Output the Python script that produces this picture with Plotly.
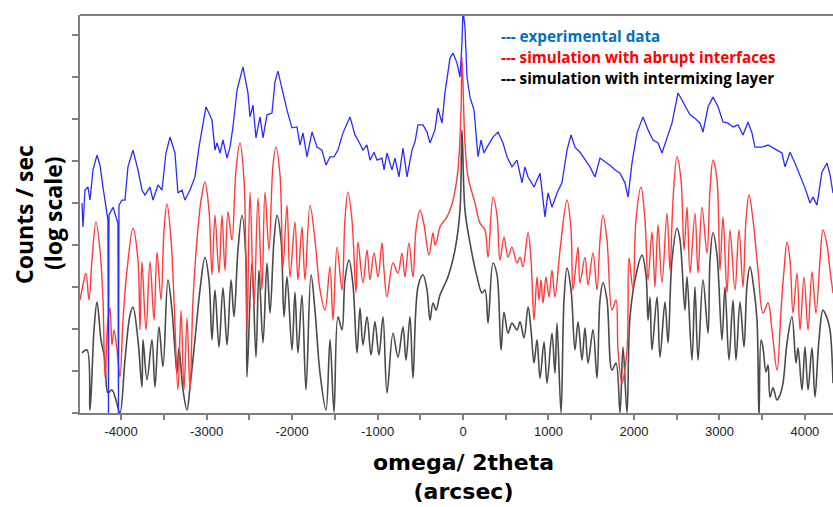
import numpy as np
import plotly.graph_objects as go

# ---------------- data (x in arcsec, y as log10 of counts/sec) ----------------
exp_x = [-4458, -4446, -4423, -4388, -4364, -4329, -4282, -4247, -4212, -4177, -4154, -4148, -4142,
         -4095, -4060, -4037, -4031, -4025, -3990, -3955, -3920, -3861, -3803, -3756, -3721, -3662,
         -3627, -3569, -3522, -3475, -3428, -3370, -3335, -3288, -3253, -3194, -3136, -3089, -3007,
         -2937, -2902, -2878, -2843, -2808, -2761, -2726, -2691, -2644, -2574, -2516, -2492, -2457,
         -2422, -2375, -2340, -2293, -2235, -2200, -2165, -2106, -2059, -2001, -1942, -1907, -1872,
         -1825, -1767, -1708, -1650, -1603, -1556, -1509, -1463, -1404, -1322, -1264, -1229, -1170,
         -1123, -1088, -1041, -1006, -948, -924, -889, -831, -796, -749, -702, -655, -597, -562, -527,
         -468, -421, -386, -328, -293, -246, -211, -152, -117, -70, -35, -12, 0, 23, 47, 82, 129, 164,
         176, 211, 246, 281, 351, 410, 468, 515, 573, 632, 690, 725, 761, 831, 901, 959, 995, 1041,
         1100, 1158, 1217, 1264, 1310, 1369, 1427, 1486, 1544, 1603, 1661, 1720, 1778, 1837, 1895,
         1931, 1977, 2036, 2106, 2165, 2223, 2282, 2328, 2387, 2445, 2516, 2597, 2656, 2714, 2773,
         2808, 2867, 2925, 2984, 3042, 3101, 3159, 3218, 3276, 3335, 3381, 3416, 3498, 3569, 3674,
         3732, 3767, 3826, 3884, 3943, 4001, 4060, 4095, 4142, 4200, 4259, 4294, 4329]
exp_log = [5.00, 4.43, 5.31, 5.38, 5.07, 5.79, 6.14, 5.90, 5.38, 4.95, 4.60, -0.12, 4.71,
           4.90, 4.64, 4.52, -0.12, 4.95, 5.07, 5.07, 5.86, 6.26, 5.79, 5.31, 5.19, 5.38,
           5.07, 5.43, 5.31, 6.19, 6.57, 6.19, 5.24, 5.31, 5.07, 5.31, 5.62, 6.33, 7.29,
           6.98, 6.26, 6.43, 6.19, 6.50, 6.07, 6.33, 6.81, 7.69, 8.24, 7.62, 7.05, 7.33,
           6.55, 7.05, 6.55, 7.10, 7.14, 7.88, 8.14, 7.62, 7.21, 6.79, 6.81, 6.38, 6.67,
           6.10, 6.69, 6.33, 6.26, 5.90, 6.10, 6.10, 6.26, 6.67, 7.05, 6.62, 6.50, 6.26,
           6.38, 6.02, 6.21, 6.02, 6.07, 5.79, 6.19, 5.79, 6.07, 5.62, 6.31, 5.62, 6.26, 6.45, 6.86,
           6.86, 6.69, 6.43, 6.74, 7.26, 6.90, 7.62, 8.45, 8.57, 8.33, 8.00, 8.81, 9.60, 9.19, 8.00, 7.52, 7.21, 6.50,
           6.10, 6.50, 6.19, 6.33, 6.57, 6.69, 6.43, 6.10, 5.86, 6.02, 5.48, 5.86, 5.62, 5.38, 5.71, 4.67, 5.24, 4.90,
           5.24, 5.48, 6.26, 6.62, 6.33, 6.21, 6.02, 5.86, 5.62, 6.07, 5.98, 5.90, 5.79, 5.71, 5.48,
           5.14, 5.95, 6.67, 7.05, 6.74, 6.50, 6.43, 6.19, 6.57, 6.90, 7.62, 7.33, 7.10, 7.02, 6.90,
           6.69, 7.29, 7.52, 7.29, 6.93, 6.90, 6.81, 6.86, 6.62, 6.93, 6.67, 6.33, 6.33, 6.38, 6.26,
           6.19, 5.86, 6.21, 5.95, 5.67, 5.36, 5.00, 5.14, 4.95, 5.74, 5.95, 5.67, 5.24]

abrupt_x = [-4481, -4446, -4411, -4376, -4341, -4294, -4247, -4212, -4189, -4154, -4130, -4107, -4083,
            -4048, -4013, -3978, -3931, -3861, -3803, -3779, -3756, -3709, -3662, -3615, -3580, -3533,
            -3498, -3463, -3416, -3381, -3335, -3299, -3264, -3229, -3194, -3159, -3112, -3065, -3019,
            -2972, -2937, -2902, -2855, -2820, -2785, -2750, -2703, -2656, -2609, -2562, -2527, -2492,
            -2445, -2399, -2352, -2317, -2270, -2223, -2188, -2141, -2106, -2059, -2024, -1966, -1931,
            -1884, -1849, -1790, -1732, -1673, -1615, -1556, -1521, -1474, -1416, -1381, -1346, -1299,
            -1252, -1229, -1170, -1123, -1088, -1041, -994, -948, -924, -889, -819, -761, -714, -679,
            -632, -585, -550, -503, -456, -398, -351, -328, -304, -269, -187, -117, -59, -23, -12, 23,
            59, 140, 199, 257, 293, 351, 398, 433, 480, 527, 573, 632, 667, 702, 761, 796, 831, 866,
            889, 913, 936, 971, 1006, 1041, 1076, 1135, 1217, 1264, 1287, 1346, 1369, 1427, 1463, 1521,
            1568, 1603, 1638, 1685, 1743, 1790, 1814, 1860, 1919, 1942, 1989, 2024, 2083, 2129, 2165,
            2211, 2246, 2282, 2328, 2387, 2422, 2457, 2504, 2551, 2586, 2621, 2656, 2714, 2750, 2796,
            2855, 2890, 2925, 2972, 3007, 3042, 3089, 3124, 3182, 3229, 3276, 3311, 3346, 3393, 3452,
            3510, 3569, 3615, 3674, 3721, 3756, 3791, 3826, 3861, 3908, 3943, 3990, 4037, 4083, 4130,
            4177, 4212, 4259, 4294, 4329]
abrupt_log = [2.69, 3.05, 3.33, 2.69, 3.64, 4.55, 3.88, 2.69, 0.86, 2.21, 2.50, 1.62, 1.98,
              1.50, 0.86, 2.21, 3.40, 4.40, 3.64, 1.98, 3.60, 1.98, 3.60, 2.21, 3.83, 2.69,
              4.36, 4.98, 4.12, 2.69, 0.55, 2.45, 0.55, 2.26, 0.55, 2.69, 4.12, 5.07, 5.50,
              4.83, 3.29, 4.71, 3.33, 4.71, 3.40, 4.79, 4.12, 5.79, 6.43, 5.55, 1.98, 5.26,
              2.52, 5.12, 2.93, 5.26, 3.88, 5.90, 6.33, 5.67, 3.48, 4.95, 3.24, 4.55, 3.17,
              4.43, 3.17, 4.95, 4.12, 2.93, 2.45, 3.48, 2.21, 3.95, 2.93, 4.60, 5.26, 4.60,
              2.86, 4.07, 3.10, 3.88, 3.17, 3.81, 3.24, 4.05, 3.40, 2.76, 3.57, 3.33, 3.81, 3.24,
              4.05, 3.24, 4.36, 4.83, 4.48, 3.76, 4.29, 4.00, 4.12, 4.43, 4.67, 5.07, 5.79, 7.21, 8.48, 6.43,
              5.62, 5.00, 4.52, 4.36, 3.71, 5.14, 4.71, 3.64, 4.19, 3.71, 3.95, 3.57, 3.71, 3.48, 4.29, 3.64, 2.21, 3.24,
              2.69, 3.17, 2.62, 3.24, 2.76, 3.40, 2.76, 3.88, 5.07, 4.36, 2.93, 3.95, 3.10, 3.71, 3.05, 3.81,
              2.93, 4.12, 4.71, 4.12, 2.45, 2.69, 1.50, 0.71, 1.50, 3.69, 2.93, 4.60, 5.38, 4.60, 3.17,
              4.31, 3.00, 4.48, 3.10, 4.76, 3.40, 5.07, 6.10, 5.55, 3.88, 4.90, 3.33, 4.76, 3.33, 4.90,
              3.81, 5.31, 6.02, 5.55, 3.40, 4.67, 2.86, 4.36, 2.93, 4.36, 3.00, 4.60, 5.19, 4.60, 3.40,
              2.38, 2.62, 1.98, 1.02, 2.45, 3.40, 4.07, 3.64, 2.38, 3.33, 1.98, 3.24, 1.98, 3.36, 2.38,
              3.64, 4.36, 4.00, 3.40, 2.86]

mix_x = [-4458, -4399, -4364, -4317, -4282, -4235, -4189, -4154, -4107, -4060, -4013, -3955, -3896,
         -3861, -3803, -3756, -3744, -3697, -3639, -3604, -3557, -3510, -3452, -3405, -3370, -3346,
         -3323, -3276, -3229, -3194, -3136, -3077, -3019, -2972, -2937, -2902, -2855, -2808, -2761,
         -2714, -2679, -2633, -2586, -2539, -2527, -2469, -2422, -2387, -2340, -2293, -2258, -2211,
         -2176, -2129, -2094, -2059, -2001, -1966, -1931, -1884, -1837, -1778, -1732, -1673, -1603,
         -1556, -1509, -1463, -1416, -1381, -1334, -1287, -1240, -1205, -1170, -1123, -1076, -1030,
         -983, -936, -889, -819, -761, -702, -667, -620, -585, -527, -468, -421, -386, -351, -316,
         -269, -176, -94, -35, -12, 23, 82, 164, 222, 257, 293, 351, 398, 445, 480, 527, 573, 632,
         667, 714, 761, 796, 831, 866, 901, 948, 983, 1041, 1076, 1100, 1147, 1182, 1217, 1264, 1310,
         1346, 1392, 1427, 1463, 1521, 1568, 1603, 1638, 1685, 1743, 1790, 1837, 1872, 1919, 1954,
         2024, 2094, 2141, 2165, 2188, 2211, 2270, 2305, 2363, 2399, 2445, 2504, 2539, 2597, 2621,
         2679, 2714, 2750, 2808, 2867, 2890, 2925, 2972, 3030, 3065, 3112, 3159, 3194, 3241, 3288,
         3323, 3358, 3405, 3440, 3463, 3487, 3510, 3545, 3569, 3592, 3627, 3674, 3709, 3744, 3791,
         3849, 3896, 3920, 3966, 4001, 4037, 4083, 4118, 4165, 4212, 4259, 4294, 4329]
mix_log = [1.43, 1.50, 0.07, 1.98, 2.64, 1.74, 1.26, 0.48, 0.55, 0.31, 0.00, 1.26, 2.33,
           2.52, 1.74, 0.62, 1.74, 0.79, 1.74, 0.62, 2.05, 1.10, 3.17, 2.45, 1.50, 0.95,
           1.55, 0.55, 0.07, 0.62, 1.74, 2.93, 3.71, 3.17, 1.74, 2.93, 1.57, 2.98, 1.62,
           3.17, 2.29, 3.88, 4.71, 3.64, 0.86, 3.57, 1.33, 3.40, 1.67, 3.57, 2.38, 4.12,
           4.71, 4.12, 2.29, 3.24, 1.50, 2.88, 1.43, 2.81, 0.55, 3.29, 2.45, 0.95, 0.07,
           1.74, 0.02, 2.29, 1.98, 3.17, 3.64, 3.05, 1.43, 2.50, 1.62, 2.29, 1.38, 2.17,
           1.38, 2.29, 0.48, 1.90, 1.33, 2.05, 1.26, 2.29, 0.83, 3.00, 3.29, 2.93, 2.21, 2.62, 2.45,
           2.81, 3.24, 3.88, 4.83, 6.74, 4.83, 4.05, 3.24, 2.86, 2.93, 2.14, 3.57, 3.29, 1.50, 2.40, 1.90, 2.14, 1.98,
           2.17, 1.79, 2.52, 1.98, 1.19, 1.74, 0.83, 1.69, 0.71, 1.90, 0.95, 2.14, 0.00, 2.69, 3.45, 2.93, 1.50,
           2.17, 1.26, 2.02, 1.19, 1.98, 0.83, 2.69, 3.10, 2.69, 1.02, 1.19, 0.00, 1.57, 0.00, 2.29,
           3.29, 3.76, 3.29, 2.21, 2.76, 1.50, 2.76, 1.33, 2.64, 1.67, 3.64, 4.40, 4.12, 2.45, 3.24,
           1.26, 3.00, 1.26, 3.17, 1.90, 3.64, 4.29, 3.76, 1.74, 3.00, 1.26, 2.69, 1.26, 2.64, 1.57,
           3.05, 3.48, 2.93, 2.21, -0.12, 1.74, 1.55, 0.98, 1.14, 0.38, 0.60, 0.31, 0.43, 0.71, 1.67,
           2.29, 1.19, 1.55, 0.55, 1.57, 0.55, 1.55, 0.38, 1.74, 2.45, 2.26, 1.98, 0.71]

x_tick_vals = [-4500, -4000, -3500, -3000, -2500, -2000, -1500, -1000, -500, 0, 500, 1000, 1500,
               2000, 2500, 3000, 3500, 4000]
x_tick_text = ["", "-4000", "", "-3000", "", "-2000", "", "-1000", "", "0", "", "1000", "",
               "2000", "", "3000", "", "4000"]

legend_items = ["--- experimental data", "--- simulation with abrupt interfaces",
                "--- simulation with intermixing layer"]
legend_colors = ["#0070C0", "#FF0000", "#000000"]

# ---------------- figure ----------------
fig = go.Figure()
fig.add_trace(go.Scatter(x=mix_x, y=np.power(10.0, mix_log), mode="lines",
                         line=dict(color="#4a4a4a", width=1.6, shape="spline", smoothing=1.0),
                         showlegend=False))
fig.add_trace(go.Scatter(x=abrupt_x, y=np.power(10.0, abrupt_log), mode="lines",
                         line=dict(color="#ff3b3b", width=1.4, shape="spline", smoothing=1.0),
                         showlegend=False))
fig.add_trace(go.Scatter(x=exp_x, y=np.power(10.0, exp_log), mode="lines",
                         line=dict(color="#2a2aff", width=1.3),
                         showlegend=False))

axis_grey = "#7f7f7f"
fig.update_xaxes(range=[-4481, 4329], showgrid=False, zeroline=False,
                 showline=True, linecolor=axis_grey, linewidth=2,
                 tickmode="array", tickvals=x_tick_vals, ticktext=x_tick_text,
                 ticks="outside", ticklen=5, tickwidth=1.5, tickcolor=axis_grey,
                 tickfont=dict(family="Liberation Sans", size=13, color="#222222"))
fig.update_yaxes(type="log", range=[0, 9.476], showgrid=False, zeroline=False,
                 showline=True, linecolor=axis_grey, linewidth=2,
                 dtick=1, ticks="outside", ticklen=6, tickwidth=1.5, tickcolor=axis_grey,
                 showticklabels=False)

annotations = []
for i, (txt, col) in enumerate(zip(legend_items, legend_colors)):
    annotations.append(dict(text=txt, xref="paper", yref="paper", x=(499 - 80) / 753,
                            y=(413 - (36 + 21 * i)) / 398, xanchor="left", yanchor="middle",
                            showarrow=False,
                            font=dict(family="Open Sans", size=15.2, color=col, weight="bold")))
annotations.append(dict(text="omega/ 2theta<br>(arcsec)", xref="paper", yref="paper",
                        x=(463 - 80) / 753, y=-(477 - 413) / 398, xanchor="center",
                        yanchor="middle", showarrow=False, borderpad=0,
                        font=dict(family="DejaVu Sans", size=22, color="#000000", weight="bold")))
annotations.append(dict(text="Counts / sec", xref="paper", yref="paper", x=(24 - 80) / 753,
                        y=(413 - 215) / 398, xanchor="center", yanchor="middle", showarrow=False,
                        textangle=-90,
                        font=dict(family="Open Sans", size=23, color="#000000", weight="bold")))
annotations.append(dict(text="(log scale)", xref="paper", yref="paper", x=(53 - 80) / 753,
                        y=(413 - 213) / 398, xanchor="center", yanchor="middle", showarrow=False,
                        textangle=-90,
                        font=dict(family="Open Sans", size=23, color="#000000", weight="bold")))

fig.update_layout(width=833, height=507, margin=dict(l=80, r=0, t=15, b=94),
                  paper_bgcolor="white", plot_bgcolor="white", annotations=annotations,
                  shapes=[dict(type="line", xref="paper", yref="paper", x0=0, x1=1, y0=1, y1=1,
                               line=dict(color=axis_grey, width=2))])
fig.write_html("out.html")
